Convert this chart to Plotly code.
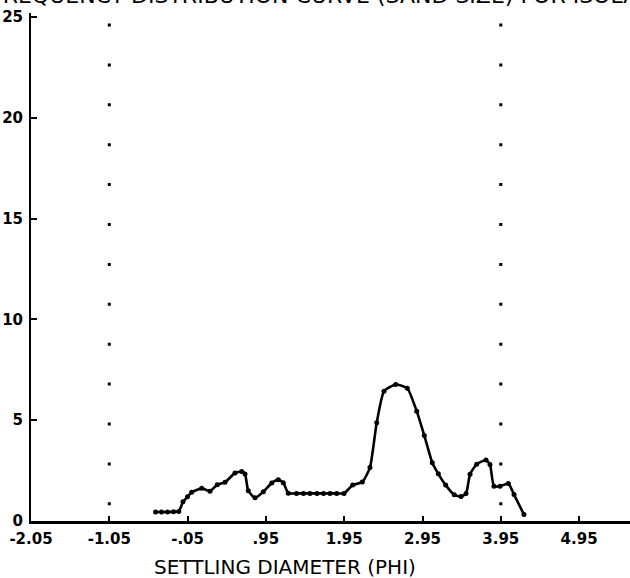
import plotly.graph_objects as go

# Settling diameter (phi) and frequency (%)
phi = [-0.46, -0.383, -0.307, -0.229, -0.163, -0.109, -0.051, 0.002, 0.13, 0.236,
       0.329, 0.428, 0.555, 0.641, 0.683, 0.725, 0.811, 0.917, 1.024, 1.108,
       1.172, 1.236, 1.341, 1.430, 1.513, 1.603, 1.686, 1.769, 1.854, 1.947,
       2.058, 2.181, 2.279, 2.365, 2.458, 2.608, 2.756, 2.876, 2.973, 3.075,
       3.152, 3.246, 3.356, 3.442, 3.506, 3.557, 3.642, 3.761, 3.812, 3.863,
       3.940, 4.046, 4.119, 4.246]
freq = [0.45, 0.45, 0.45, 0.46, 0.47, 0.95, 1.2, 1.43, 1.62, 1.48,
        1.8, 1.92, 2.38, 2.45, 2.33, 1.5, 1.15, 1.45, 1.88, 2.05,
        1.9, 1.38, 1.37, 1.37, 1.37, 1.37, 1.37, 1.37, 1.37, 1.37,
        1.78, 1.93, 2.65, 4.87, 6.44, 6.77, 6.58, 5.45, 4.24, 2.89,
        2.34, 1.78, 1.30, 1.22, 1.36, 2.32, 2.82, 3.02, 2.8, 1.72,
        1.73, 1.86, 1.31, 0.32]

x_ticks = [-2.05, -1.05, -0.05, 0.95, 1.95, 2.95, 3.95, 4.95]
x_tick_text = ["-2.05", "-1.05", "-.05", ".95", "1.95", "2.95", "3.95", "4.95"]
y_ticks = [0, 5, 10, 15, 20, 25]
guide_phi = [-1.05, 3.95]

title_text = "FREQUENCY DISTRIBUTION CURVE (SAND SIZE) FOR ISOLATE"
x_title = "SETTLING DIAMETER (PHI)"

font_family = "DejaVu Sans, Liberation Sans, sans-serif"

fig = go.Figure()
fig.add_trace(go.Scatter(
    x=phi, y=freq, mode="lines+markers",
    line=dict(color="black", width=2.6, shape="spline", smoothing=0.5),
    marker=dict(color="black", size=5),
    hoverinfo="x+y", showlegend=False,
))

# dotted vertical guides
for gx in guide_phi:
    fig.add_shape(type="line", xref="x", yref="y", x0=gx, x1=gx, y0=24.68, y1=0.7,
                  line=dict(color="black", width=3, dash="3px,36.9px"))

fig.add_annotation(text=title_text, xref="paper", yref="paper", x=-0.072, y=1.006,
                   xanchor="left", yanchor="bottom", showarrow=False,
                   font=dict(family=font_family, size=22, color="black"))
fig.add_annotation(text=x_title, xref="paper", yref="paper", x=0.424, y=-0.09,
                   xanchor="center", yanchor="middle", showarrow=False,
                   font=dict(family=font_family, size=20, color="black"))

fig.update_layout(
    width=630, height=578,
    margin=dict(l=31, r=0, t=13, b=56.5),
    paper_bgcolor="white", plot_bgcolor="white",
    font=dict(family=font_family, color="black"),
    xaxis=dict(range=[-2.05, 5.6], tickvals=x_ticks, ticktext=x_tick_text,
               ticks="inside", ticklen=5, tickwidth=2, tickcolor="black",
               showline=True, linecolor="black", linewidth=2.5,
               showgrid=False, zeroline=False, ticklabelstandoff=2,
               tickfont=dict(size=15, color="black", weight="bold")),
    yaxis=dict(range=[0, 25.2], tickvals=y_ticks,
               ticks="inside", ticklen=6, tickwidth=2, tickcolor="black",
               showline=True, linecolor="black", linewidth=2,
               showgrid=False, zeroline=False, ticklabelstandoff=3,
               tickfont=dict(size=15, color="black", weight="bold")),
)

fig.write_html("out.html")
